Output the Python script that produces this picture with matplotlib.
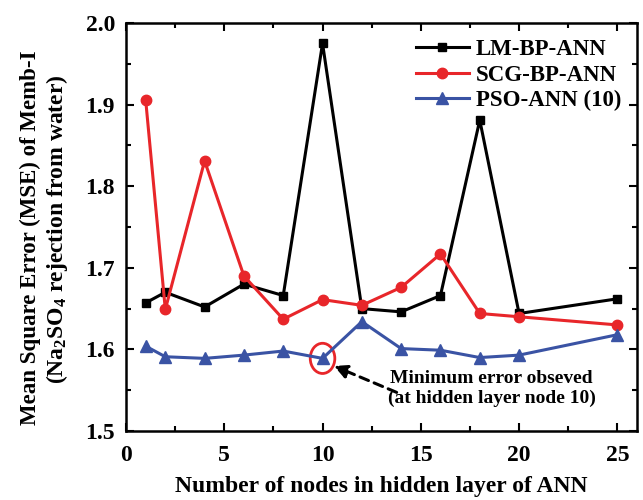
import numpy as np
import matplotlib.pyplot as plt
from matplotlib.patches import Ellipse
from matplotlib.ticker import MultipleLocator

nodes = [1, 2, 4, 6, 8, 10, 12, 14, 16, 18, 20, 25]
lm_bp = [1.657, 1.670, 1.652, 1.680, 1.666, 1.975, 1.650, 1.646, 1.666, 1.881, 1.644, 1.662]
scg_bp = [1.906, 1.649, 1.831, 1.690, 1.637, 1.661, 1.654, 1.676, 1.717, 1.644, 1.640, 1.630]
pso = [1.604, 1.591, 1.589, 1.593, 1.598, 1.589, 1.634, 1.601, 1.599, 1.590, 1.593, 1.618]

labels = ['LM-BP-ANN', 'SCG-BP-ANN', 'PSO-ANN (10)']
ylabel1 = 'Mean Square Error (MSE) of Memb-I'
ylabel2 = '(Na$_2$SO$_4$ rejection from water)'
note = 'Minimum error obseved\n(at hidden layer node 10)'


def main():
    plt.rcParams['font.family'] = 'Liberation Serif'
    plt.rcParams['font.weight'] = 'bold'
    plt.rcParams['axes.labelweight'] = 'bold'
    plt.rcParams['mathtext.fontset'] = 'custom'
    plt.rcParams['mathtext.rm'] = 'Liberation Serif:bold'
    plt.rcParams['mathtext.it'] = 'Liberation Serif:bold'
    plt.rcParams['mathtext.bf'] = 'Liberation Serif:bold'

    W, H = 643, 500
    fig = plt.figure(figsize=(6.43, 5.0), dpi=100)
    ax = fig.add_axes([126 / W, 1 - 431 / H, (637 - 126) / W, (431 - 23) / H])

    ax.plot(nodes, lm_bp, color='black', lw=2.2, marker='s', ms=6, label=labels[0])
    ax.plot(nodes, scg_bp, color='#e8262a', lw=2.2, marker='o', ms=7.5, label=labels[1])
    ax.plot(nodes, pso, color='#3a53a4', lw=2.2, marker='^', ms=8, label=labels[2])

    ax.set_xlim(0, 26)
    ax.set_ylim(1.5, 2.0)
    ax.xaxis.set_major_locator(MultipleLocator(5))
    ax.xaxis.set_minor_locator(MultipleLocator(2.5))
    ax.yaxis.set_major_locator(MultipleLocator(0.1))
    ax.yaxis.set_minor_locator(MultipleLocator(0.05))
    ax.tick_params(which='both', direction='in', top=True, right=True, width=1.5, labelsize=17)
    ax.tick_params(which='major', length=6)
    ax.tick_params(which='minor', length=3.5)
    ax.tick_params(axis='x', pad=10)
    ax.tick_params(axis='y', pad=8)
    for s in ax.spines.values():
        s.set_linewidth(1.8)

    ax.set_xlabel('Number of nodes in hidden layer of ANN', fontsize=17, labelpad=7)
    # two y-label lines placed separately (they are not centred on each other)
    fig.text(30 / W, 1 - 238 / H, ylabel1, rotation=90, ha='center', va='center',
             fontsize=16.5, fontweight='bold')
    fig.text(57 / W, 1 - 229 / H, ylabel2, rotation=90, ha='center', va='center',
             fontsize=17, fontweight='bold')

    ax.add_patch(Ellipse((10, 1.589), 1.25, 0.037, fill=False, ec='#e8262a', lw=2))
    ax.annotate('', xy=(10.45, 1.581), xytext=(13.9, 1.546),
                arrowprops=dict(arrowstyle='-|>', linestyle=(0, (3, 2)), color='black', lw=2.2,
                                mutation_scale=20))
    ax.text(18.6, 1.552, note, ha='center', va='center', fontsize=14, linespacing=1.25)

    ax.legend(loc='upper right', frameon=False, fontsize=16.5, handlelength=2.3,
              handletextpad=0.3, labelspacing=0.2, borderaxespad=0.3)

    fig.savefig('out.png', dpi=100)


if __name__ == '__main__':
    main()
